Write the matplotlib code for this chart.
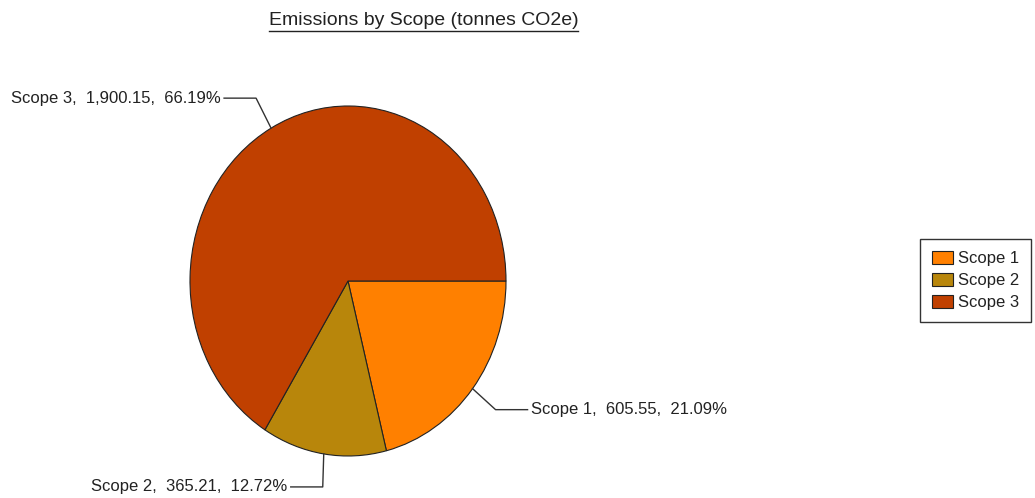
import numpy as np
import matplotlib
matplotlib.use('Agg')
import matplotlib.pyplot as plt
from matplotlib.lines import Line2D
from matplotlib.transforms import IdentityTransform

plt.rcParams['font.family'] = ['Liberation Sans', 'DejaVu Sans']

labels = ['Scope 1', 'Scope 2', 'Scope 3']
values = [605.55, 365.21, 1900.15]
colors = ['#FF8000', '#B8860B', '#C04000']
pcts = ['21.09%', '12.72%', '66.19%']

W, H = 1035, 498
fig = plt.figure(figsize=(W / 100, H / 100), dpi=100)

# pie drawn in an axes stretched like the original (a bit taller than wide)
ax = fig.add_axes([190 / W, 42 / H, 316 / W, 350 / H])
wedges, _ = ax.pie(values, colors=colors, startangle=0, counterclock=False,
                   radius=1, wedgeprops=dict(edgecolor='#222222', linewidth=0.8))
ax.set_aspect('auto')
ax.set_xlim(-1, 1)
ax.set_ylim(-1, 1)
ax.axis('off')

# leader lines: offset of elbow from pie edge, and which side the text goes
elbow = [(23, 21, 'right'), (-1, 33, 'left'), (-15, -30, 'left')]
hlen = 32

for w, lab, v, p, (dx, dy, side) in zip(wedges, labels, values, pcts, elbow):
    mid = np.deg2rad((w.theta1 + w.theta2) / 2)
    ex, ey = ax.transData.transform((np.cos(mid), np.sin(mid)))
    bx, by = ex + dx, ey - dy
    hx = bx + hlen if side == 'right' else bx - hlen
    fig.add_artist(Line2D([ex, bx, hx], [ey, by, by], color='#333333',
                          linewidth=1, transform=IdentityTransform()))
    tx = hx + 3 if side == 'right' else hx - 3
    fig.text(tx / W, by / H, f'{lab},  {v:,.2f},  {p}',
             ha='left' if side == 'right' else 'right', va='center',
             fontsize=12, color='#222222')

# title with underline
t = fig.text(423.5 / W, 1 - 20 / H, 'Emissions by Scope (tonnes CO2e)',
             ha='center', va='center', fontsize=14, color='#222222')
fig.canvas.draw()
bb = t.get_window_extent()
fig.add_artist(Line2D([bb.x0, bb.x1], [H - 31, H - 31], color='#222222',
                      linewidth=1, transform=IdentityTransform()))

leg = fig.legend(wedges, labels, loc='upper left',
                 bbox_to_anchor=(920 / W, 1 - 239 / H), fontsize=12,
                 frameon=True, fancybox=False, edgecolor='black',
                 borderaxespad=0, handlelength=1.25, handleheight=0.8,
                 labelspacing=0.42, handletextpad=0.3, borderpad=0.72)
leg.get_frame().set_linewidth(1)
for txt in leg.get_texts():
    txt.set_color('#222222')

fig.savefig('out.png', dpi=100)
